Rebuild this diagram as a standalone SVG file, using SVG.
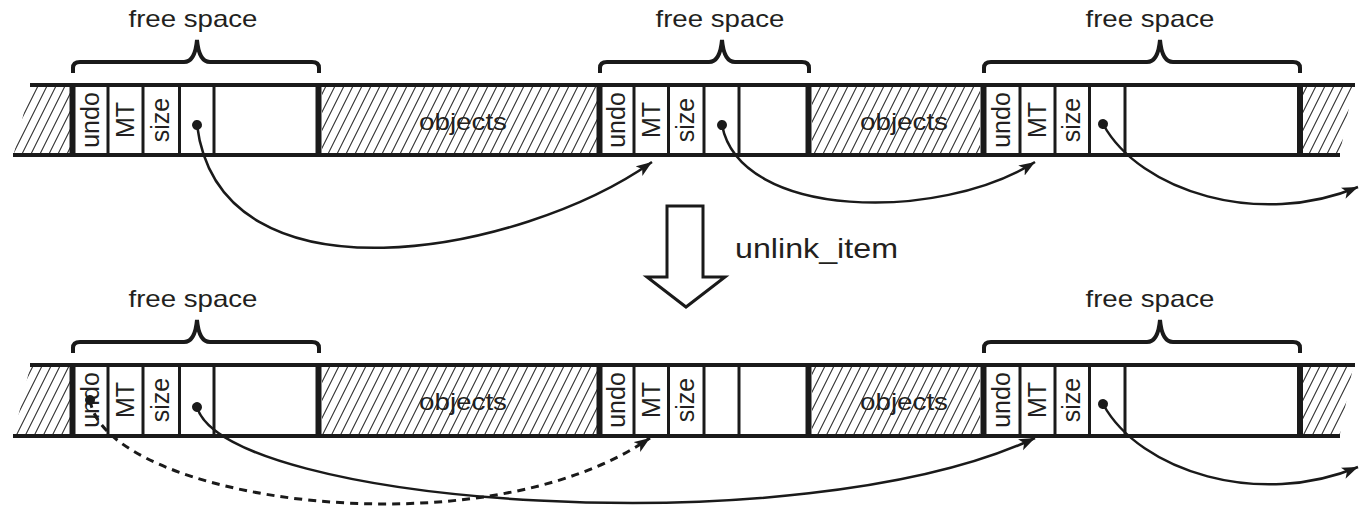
<svg xmlns="http://www.w3.org/2000/svg" width="1361" height="512" viewBox="0 0 1361 512">
  <style>
    .txt { font-family: "Liberation Sans", Arial, sans-serif; fill: #231f20; }
    .lbl { font-size: 24px; text-anchor: middle; }
    .cell { font-size: 25px; text-anchor: middle; }
    .rail { stroke: #1a1a1a; stroke-width: 4; fill: none; }
    .wall { stroke: #1a1a1a; stroke-width: 6; }
    .sep { stroke: #1a1a1a; stroke-width: 3; }
    .brace { stroke: #1a1a1a; stroke-width: 4; fill: none; stroke-linejoin: miter; }
    .hatch { fill: url(#hatch); stroke: none; }
    .link { stroke: #1a1a1a; stroke-width: 2.5; fill: none; marker-start: url(#dot); marker-end: url(#head); }
    .dashed { stroke-dasharray: 8 6; stroke-width: 3; }
  </style>
  <defs>
    <pattern id="hatch" patternUnits="userSpaceOnUse" width="9" height="18">
      <path d="M-9,18 L9,-18 M-9,36 L18,-18 M0,36 L27,-18" stroke="#333" stroke-width="1.1"/>
    </pattern>
    <marker id="head" markerUnits="userSpaceOnUse" markerWidth="18" markerHeight="14" refX="16" refY="6" orient="auto">
      <path d="M0,0 L16,6 L0,12 L4,6 z" fill="#1a1a1a"/>
    </marker>
    <marker id="dot" markerUnits="userSpaceOnUse" markerWidth="12" markerHeight="12" refX="6" refY="6" orient="auto">
      <circle cx="6" cy="6" r="5" fill="#1a1a1a"/>
    </marker>
  </defs>

  <!-- ===== before: heap strip with three free blocks ===== -->
  <g id="heap-before">
    <polygon class="hatch" points="30,87 70,87 70,153 14,153"/>
    <rect class="hatch" x="322" y="87" width="275" height="66"/>
    <rect class="hatch" x="812" y="87" width="168" height="66"/>
    <polygon class="hatch" points="1303,87 1353,87 1340,153 1303,153"/>
    <line class="rail" x1="30" y1="85" x2="1355" y2="85"/>
    <line class="rail" x1="13" y1="155" x2="1340" y2="155"/>
    <text class="txt lbl" x="463" y="130" textLength="88" lengthAdjust="spacingAndGlyphs">objects</text>
    <text class="txt lbl" x="904" y="130" textLength="88" lengthAdjust="spacingAndGlyphs">objects</text>
  </g>

  <g id="free-a-before">
    <line class="wall" x1="72.5" y1="85" x2="72.5" y2="155"/>
    <line class="sep" x1="108" y1="85" x2="108" y2="155"/>
    <line class="sep" x1="143" y1="85" x2="143" y2="155"/>
    <line class="sep" x1="179.5" y1="85" x2="179.5" y2="155"/>
    <line class="sep" x1="214" y1="85" x2="214" y2="155"/>
    <line class="wall" x1="318.5" y1="85" x2="318.5" y2="155"/>
    <text class="txt cell" transform="translate(99,120) rotate(-90)">undo</text>
    <text class="txt cell" transform="translate(134,120) rotate(-90)">MT</text>
    <text class="txt cell" transform="translate(169,120) rotate(-90)">size</text>
    <path class="brace" d="M73,73 V68 Q73,62 80,62 H184 Q195,62 197,40 Q199,62 210,62 H312 Q319,62 319,68 V73"/>
    <text class="txt lbl" x="193" y="27" textLength="129" lengthAdjust="spacingAndGlyphs">free space</text>
  </g>

  <g id="free-b-before">
    <line class="wall" x1="599.5" y1="85" x2="599.5" y2="155"/>
    <line class="sep" x1="634" y1="85" x2="634" y2="155"/>
    <line class="sep" x1="668.5" y1="85" x2="668.5" y2="155"/>
    <line class="sep" x1="704" y1="85" x2="704" y2="155"/>
    <line class="sep" x1="739" y1="85" x2="739" y2="155"/>
    <line class="wall" x1="808.5" y1="85" x2="808.5" y2="155"/>
    <text class="txt cell" transform="translate(625,120) rotate(-90)">undo</text>
    <text class="txt cell" transform="translate(660,120) rotate(-90)">MT</text>
    <text class="txt cell" transform="translate(694,120) rotate(-90)">size</text>
    <path class="brace" d="M600,73 V68 Q600,62 607,62 H709 Q720,62 722,40 Q724,62 735,62 H802 Q809,62 809,68 V73"/>
    <text class="txt lbl" x="720" y="27" textLength="129" lengthAdjust="spacingAndGlyphs">free space</text>
  </g>

  <g id="free-c-before">
    <line class="wall" x1="983.5" y1="85" x2="983.5" y2="155"/>
    <line class="sep" x1="1020" y1="85" x2="1020" y2="155"/>
    <line class="sep" x1="1055" y1="85" x2="1055" y2="155"/>
    <line class="sep" x1="1089.5" y1="85" x2="1089.5" y2="155"/>
    <line class="sep" x1="1125" y1="85" x2="1125" y2="155"/>
    <line class="wall" x1="1300" y1="85" x2="1300" y2="155"/>
    <text class="txt cell" transform="translate(1010,120) rotate(-90)">undo</text>
    <text class="txt cell" transform="translate(1046,120) rotate(-90)">MT</text>
    <text class="txt cell" transform="translate(1080,120) rotate(-90)">size</text>
    <path class="brace" d="M984,73 V68 Q984,62 991,62 H1147 Q1158,62 1160,40 Q1162,62 1173,62 H1293 Q1300,62 1300,68 V73"/>
    <text class="txt lbl" x="1150" y="27" textLength="129" lengthAdjust="spacingAndGlyphs">free space</text>
  </g>

  <!-- ===== operation ===== -->
  <g id="op-unlink">
    <polygon points="667,206 703,206 703,277 725,277 686,307 647,277 667,277" fill="#fff" stroke="#1a1a1a" stroke-width="3" stroke-linejoin="miter"/>
    <text class="txt" x="735" y="258" font-size="28" textLength="163" lengthAdjust="spacingAndGlyphs">unlink_item</text>
  </g>

  <!-- ===== after: middle block is no longer on the free list ===== -->
  <g id="heap-after">
    <polygon class="hatch" points="30,367 70,367 70,434 14,434"/>
    <rect class="hatch" x="322" y="367" width="275" height="67"/>
    <rect class="hatch" x="812" y="367" width="168" height="67"/>
    <polygon class="hatch" points="1303,367 1353,367 1340,434 1303,434"/>
    <line class="rail" x1="30" y1="365" x2="1355" y2="365"/>
    <line class="rail" x1="13" y1="436" x2="1340" y2="436"/>
    <text class="txt lbl" x="463" y="410" textLength="88" lengthAdjust="spacingAndGlyphs">objects</text>
    <text class="txt lbl" x="904" y="410" textLength="88" lengthAdjust="spacingAndGlyphs">objects</text>
  </g>

  <g id="free-a-after">
    <line class="wall" x1="72.5" y1="365" x2="72.5" y2="436"/>
    <line class="sep" x1="108" y1="365" x2="108" y2="436"/>
    <line class="sep" x1="143" y1="365" x2="143" y2="436"/>
    <line class="sep" x1="179.5" y1="365" x2="179.5" y2="436"/>
    <line class="sep" x1="214" y1="365" x2="214" y2="436"/>
    <line class="wall" x1="318.5" y1="365" x2="318.5" y2="436"/>
    <text class="txt cell" transform="translate(99,400) rotate(-90)">undo</text>
    <text class="txt cell" transform="translate(134,400) rotate(-90)">MT</text>
    <text class="txt cell" transform="translate(169,400) rotate(-90)">size</text>
    <path class="brace" d="M73,353 V348 Q73,342 80,342 H184 Q195,342 197,320 Q199,342 210,342 H312 Q319,342 319,348 V353"/>
    <text class="txt lbl" x="193" y="307" textLength="129" lengthAdjust="spacingAndGlyphs">free space</text>
  </g>

  <g id="block-b-after">
    <line class="wall" x1="599.5" y1="365" x2="599.5" y2="436"/>
    <line class="sep" x1="634" y1="365" x2="634" y2="436"/>
    <line class="sep" x1="668.5" y1="365" x2="668.5" y2="436"/>
    <line class="sep" x1="704" y1="365" x2="704" y2="436"/>
    <line class="sep" x1="739" y1="365" x2="739" y2="436"/>
    <line class="wall" x1="808.5" y1="365" x2="808.5" y2="436"/>
    <text class="txt cell" transform="translate(625,400) rotate(-90)">undo</text>
    <text class="txt cell" transform="translate(660,400) rotate(-90)">MT</text>
    <text class="txt cell" transform="translate(694,400) rotate(-90)">size</text>
  </g>

  <g id="free-c-after">
    <line class="wall" x1="983.5" y1="365" x2="983.5" y2="436"/>
    <line class="sep" x1="1020" y1="365" x2="1020" y2="436"/>
    <line class="sep" x1="1055" y1="365" x2="1055" y2="436"/>
    <line class="sep" x1="1089.5" y1="365" x2="1089.5" y2="436"/>
    <line class="sep" x1="1125" y1="365" x2="1125" y2="436"/>
    <line class="wall" x1="1300" y1="365" x2="1300" y2="436"/>
    <text class="txt cell" transform="translate(1010,400) rotate(-90)">undo</text>
    <text class="txt cell" transform="translate(1046,400) rotate(-90)">MT</text>
    <text class="txt cell" transform="translate(1080,400) rotate(-90)">size</text>
    <path class="brace" d="M984,353 V348 Q984,342 991,342 H1147 Q1158,342 1160,320 Q1162,342 1173,342 H1293 Q1300,342 1300,348 V353"/>
    <text class="txt lbl" x="1150" y="307" textLength="129" lengthAdjust="spacingAndGlyphs">free space</text>
  </g>

  <!-- ===== free-list links ===== -->
  <g id="connectors">
    <path class="link" d="M197,125 C220,310 520,255 652,162"/>
    <path class="link" d="M722,125 C740,220 940,222 1035,162"/>
    <path class="link" d="M1103,124 C1140,192 1260,228 1358,187"/>
    <path class="link dashed" d="M90,400 C105,500 480,555 650,438"/>
    <path class="link" d="M197,407 C225,505 800,548 1035,438"/>
    <path class="link" d="M1103,404 C1140,472 1260,508 1358,467"/>
  </g>
</svg>
